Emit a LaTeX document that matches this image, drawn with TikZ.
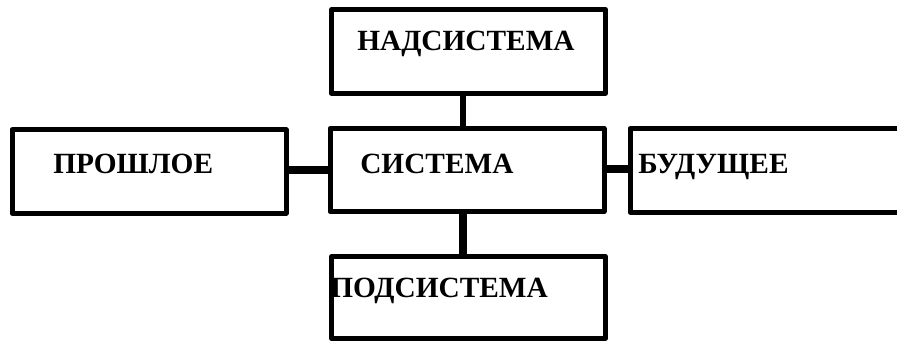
\documentclass[tikz,border=0pt]{standalone}
\usepackage{fontspec}
\setmainfont{Liberation Serif}
\begin{document}
\begin{tikzpicture}[x=0.75pt,y=-0.75pt,
  box/.style={draw, rectangle, line width=3.75pt, line join=round, inner sep=0pt,
    minimum width=205.5pt, minimum height=62.5pt},
  label/.style={anchor=base west, inner sep=0pt, font=\bfseries\fontsize{22}{26}\selectfont},
  link/.style={line width=5.5pt}]
  \useasboundingbox (0,0) rectangle (897,341);
  \clip (0,0) rectangle (897,341);
  % boxes
  \node[box] (super) at (468.5,51.5) {};
  \node[box] (sys)   at (467,170) {};
  \node[box] (past)  at (149,171.5) {};
  \node[box] (fut)   at (767,170.5) {};
  \node[box, minimum height=61pt] (sub) at (468.5,297.5) {};
  % guide coordinates for the connectors
  \coordinate (vx) at (463,0);
  \coordinate (hl) at (0,170);
  \coordinate (hr) at (0,169);
  % connectors
  \draw[link, line width=5pt] (super.south -| vx) -- (sys.north -| vx);
  \draw[link, line width=6pt] (sys.south -| vx) -- (sub.north -| vx);
  \draw[link] (past.east |- hl) -- (sys.west |- hl);
  \draw[link] (sys.east |- hr) -- (fut.west |- hr);
  % labels
  \node[label] (tsuper) at (357,51)  {НАДСИСТЕМА};
  \node[label] (tpast)  at (53,174)  {ПРОШЛОЕ};
  \node[label] (tsys)   at (360,174) {СИСТЕМА};
  \node[label] (tfut)   at (638,174) {БУДУЩЕЕ};
  \node[label] (tsub)   at (330,298) {ПОДСИСТЕМА};
\end{tikzpicture}
\end{document}
